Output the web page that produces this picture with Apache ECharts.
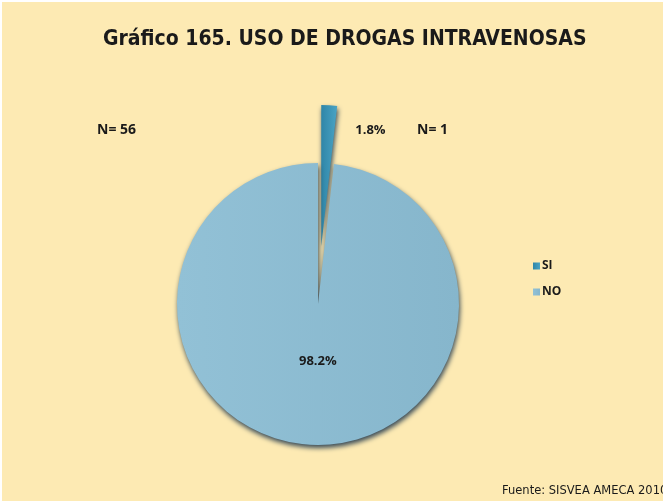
<!DOCTYPE html>
<html>
<head>
<meta charset="utf-8">
<script src="https://cdn.jsdelivr.net/npm/echarts@6/dist/echarts.min.js"></script>
<style>
  html, body { margin: 0; padding: 0; background: #ffffff; }
  #chart { position: absolute; left: 2px; top: 2px; width: 661px; height: 499px; }
</style>
</head>
<body>
<div id="chart"></div>
<script>
var categories = ["SI", "NO"];
var counts = [1, 56];
var percents = [1.8, 98.2];

var pieData = [];
for (var i = 0; i < categories.length; i++) {
	pieData.push({
		name: categories[i],
		value: percents[i],
		selected: i === 0,
		itemStyle: {
			color: new echarts.graphic.LinearGradient(0, 0, 1, 0, [
				{ offset: 0, color: i === 0 ? '#2f86a8' : '#92c1d6' },
				{ offset: 1, color: i === 0 ? '#4aa3c4' : '#86b6cc' }
			])
		}
	});
}

var option = {
	backgroundColor: '#fdeab3',
	animation: false,
	title: {
		text: 'Gráfico 165. USO DE DROGAS INTRAVENOSAS',
		left: 96,
		top: 22,
		textStyle: {
			fontFamily: 'DejaVu Sans Condensed, Roboto',
			fontWeight: 'bold',
			fontSize: 21,
			color: '#1a1a1a'
		}
	},
	legend: {
		orient: 'vertical',
		left: 526,
		top: 253,
		itemWidth: 7,
		itemHeight: 7,
		itemGap: 14,
		icon: 'rect',
		data: categories,
		textStyle: {
			fontFamily: 'Open Sans, Liberation Sans',
			fontWeight: 'bold',
			fontSize: 12,
			color: '#1a1a1a',
			padding: [0, 0, 0, -3]
		}
	},
	graphic: [
		{
			type: 'text', left: 95, top: 121,
			style: { text: 'N= ' + counts[1], font: 'bold 14px "Open Sans", "Liberation Sans"', fill: '#1a1a1a' }
		},
		{
			type: 'text', left: 415, top: 121,
			style: { text: 'N= ' + counts[0], font: 'bold 14px "Open Sans", "Liberation Sans"', fill: '#1a1a1a' }
		},
		{
			type: 'text', left: 500, top: 483,
			style: { text: 'Fuente: SISVEA AMECA 2010', font: '11.5px "DejaVu Sans"', fill: '#1a1a1a' }
		}
	],
	series: [{
		type: 'pie',
		center: [316, 302],
		radius: [0, 141],
		startAngle: 90,
		clockwise: true,
		selectedMode: 'single',
		selectedOffset: 58,
		avoidLabelOverlap: false,
		itemStyle: {
			shadowBlur: 5,
			shadowOffsetX: 1,
			shadowOffsetY: 3,
			shadowColor: 'rgba(20, 45, 70, 0.85)'
		},
		label: {
			position: 'inside',
			formatter: function (p) { return p.value.toFixed(1) + '%'; },
			fontFamily: 'Open Sans, Liberation Sans',
			fontWeight: 'bold',
			fontSize: 13,
			color: '#1a1a1a'
		},
		labelLayout: function (p) {
			if (p.dataIndex === 0) {
				return { dx: 45, dy: -42 };
			}
			return { dx: 4, dy: -16 };
		},
		emphasis: { disabled: true },
		data: pieData
	}]
};

var myChart = echarts.init(document.getElementById('chart'));
myChart.setOption(option);
</script>
</body>
</html>
